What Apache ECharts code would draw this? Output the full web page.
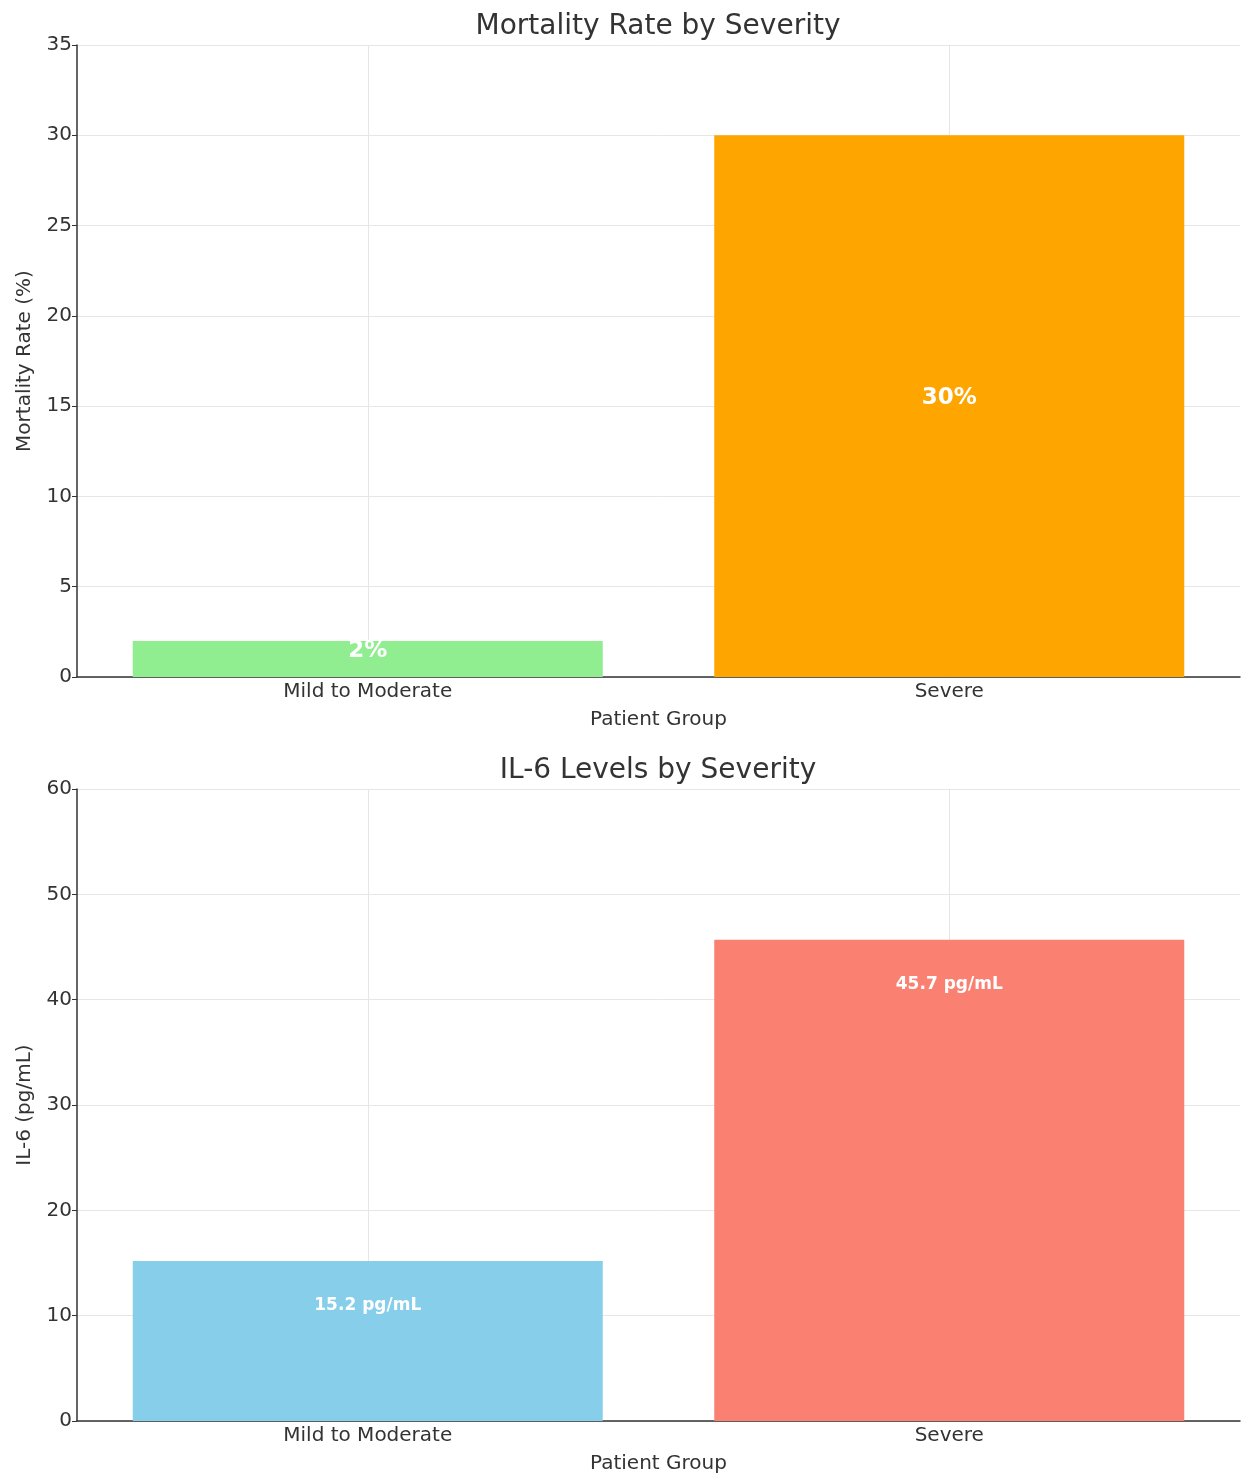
<!DOCTYPE html>
<html>
<head>
<meta charset="utf-8">
<script src="https://cdn.jsdelivr.net/npm/echarts@6/dist/echarts.min.js"></script>
<style>
  html, body { margin: 0; padding: 0; background: #fff; }
  #main { width: 1244px; height: 1478px; }
</style>
</head>
<body>
<div id="main"></div>
<script>
// data
const groups = ['Mild to Moderate', 'Severe']
const mortalityRate = [2, 30]
const il6Levels = [15.2, 45.7]
const mortalityColors = ['#90EE90', '#FFA500']
const il6Colors = ['#87CEEB', '#FA8072']

const FONT = 'DejaVu Sans'
const chart = echarts.init(document.getElementById('main'))

function xAx(gridIndex) {
  return {
    type: 'category',
    gridIndex: gridIndex,
    data: groups,
    name: 'Patient Group',
    nameLocation: 'middle',
    nameGap: 33,
    nameTextStyle: { fontFamily: FONT, fontSize: 20, color: '#333' },
    axisLine: { lineStyle: { color: '#333', width: 1.5 } },
    axisTick: { alignWithLabel: true, length: 5, lineStyle: { color: '#333' } },
    axisLabel: { fontFamily: FONT, fontSize: 20, color: '#333', margin: 5 },
    splitLine: { show: true, alignWithLabel: true, lineStyle: { color: '#e6e6e6' } }
  }
}

function yAx(gridIndex, max, interval, name) {
  return {
    type: 'value',
    gridIndex: gridIndex,
    min: 0,
    max: max,
    interval: interval,
    name: name,
    nameLocation: 'middle',
    nameGap: 42,
    nameTextStyle: { fontFamily: FONT, fontSize: 20, color: '#333' },
    axisLine: { show: true, lineStyle: { color: '#333', width: 1.5 } },
    axisTick: { show: true, length: 5, lineStyle: { color: '#333' } },
    axisLabel: { fontFamily: FONT, fontSize: 20, color: '#333', margin: 5 },
    splitLine: { show: true, lineStyle: { color: '#e6e6e6' } }
  }
}

const option = {
  animation: false,
  backgroundColor: '#fff',
  title: [
    { text: 'Mortality Rate by Severity', left: 653, top: 8, textAlign: 'center',
      textStyle: { fontFamily: FONT, fontSize: 28, fontWeight: 'normal', color: '#333' } },
    { text: 'IL-6 Levels by Severity', left: 653, top: 752, textAlign: 'center',
      textStyle: { fontFamily: FONT, fontSize: 28, fontWeight: 'normal', color: '#333' } }
  ],
  grid: [
    { left: 77, right: 4, top: 45, height: 632 },
    { left: 77, right: 4, top: 789, height: 632 }
  ],
  xAxis: [xAx(0), xAx(1)],
  yAxis: [
    yAx(0, 35, 5, 'Mortality Rate (%)'),
    yAx(1, 60, 10, 'IL-6 (pg/mL)')
  ],
  series: [
    {
      type: 'bar',
      xAxisIndex: 0,
      yAxisIndex: 0,
      barWidth: 470,
      data: mortalityRate.map((v, i) => ({ value: v, itemStyle: { color: mortalityColors[i] } })),
      label: {
        show: true,
        position: 'inside',
        offset: [0, -8],
        formatter: p => p.value + '%',
        fontFamily: FONT,
        fontSize: 23,
        fontWeight: 'bold',
        color: '#fff'
      }
    },
    {
      type: 'bar',
      xAxisIndex: 1,
      yAxisIndex: 1,
      barWidth: 470,
      data: il6Levels.map((v, i) => ({ value: v, itemStyle: { color: il6Colors[i] } })),
      label: {
        show: true,
        position: 'insideTop',
        distance: 36,
        formatter: p => p.value + ' pg/mL',
        fontFamily: FONT,
        fontSize: 17,
        fontWeight: 'bold',
        color: '#fff'
      }
    }
  ]
}

chart.setOption(option)
</script>
</body>
</html>
